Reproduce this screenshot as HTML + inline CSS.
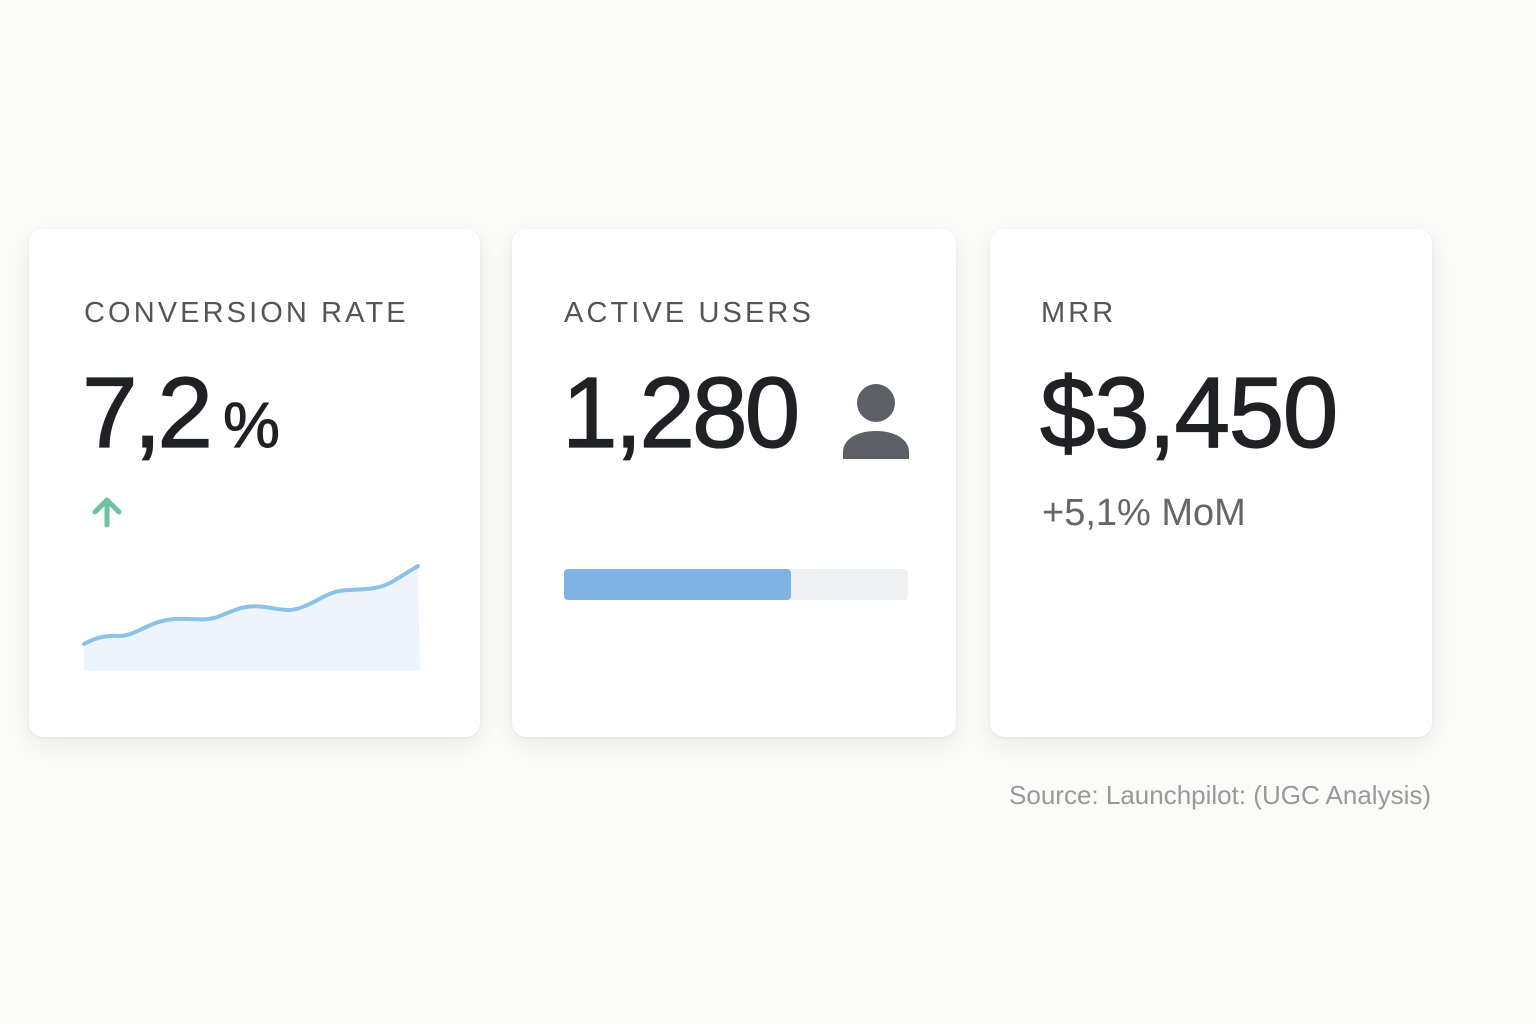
<!DOCTYPE html>
<html><head><meta charset="utf-8"><style>
body{margin:0;width:1536px;height:1024px;background:#fbfbf9;position:relative;overflow:hidden;font-family:"Liberation Sans",sans-serif}
.card{position:absolute;top:229px;height:508px;background:#fff;border-radius:14px;box-shadow:0 8px 24px rgba(0,0,0,0.07),0 1px 3px rgba(0,0,0,0.06)}
.lbl{position:absolute;top:297px;font-size:29px;letter-spacing:3.1px;color:#555;white-space:nowrap}
.big{position:absolute;top:356px;font-size:100px;color:#1f2124;letter-spacing:-1.5px;white-space:nowrap;line-height:1.15;-webkit-text-stroke:1.2px #1f2124}
</style></head><body>
<div class="card" style="left:29px;width:451px"></div>
<div class="card" style="left:512px;width:444px"></div>
<div class="card" style="left:990px;width:442px"></div>

<div class="lbl" style="left:84px">CONVERSION RATE</div>
<div class="lbl" style="left:564px">ACTIVE USERS</div>
<div class="lbl" style="left:1041px">MRR</div>

<div class="big" style="left:82px;letter-spacing:-4px">7,2<span style="font-size:64px;margin-left:14px;letter-spacing:0;-webkit-text-stroke:1px #1f2124">%</span></div>
<div class="big" style="left:562px;letter-spacing:-3px">1,280</div>
<div class="big" style="left:1040px">$3,450</div>

<div style="position:absolute;left:1042px;top:492px;font-size:38px;color:#666;white-space:nowrap">+5,1% MoM</div>

<svg style="position:absolute;left:0;top:0" width="1536" height="1024">
  <path d="M95 512 L107 500 L119 512 M107 500 L107 525" stroke="#6cc39e" stroke-width="5" fill="none" stroke-linecap="round" stroke-linejoin="round"/>
  <path d="M84 644 C95 638,105 635,118 636 C135 637,150 620,175 619 C195 618,205 622,220 616 C235 610,245 604,265 607 C280 609,290 613,305 606 C320 600,330 590,350 590 C365 589,380 590,395 580 L418 566 L420 671 L84 671 Z" fill="#eef4fb"/>
  <path d="M84 644 C95 638,105 635,118 636 C135 637,150 620,175 619 C195 618,205 622,220 616 C235 610,245 604,265 607 C280 609,290 613,305 606 C320 600,330 590,350 590 C365 589,380 590,395 580 L418 566" stroke="#8dc2e8" stroke-width="4" fill="none" stroke-linecap="round"/>
  <circle cx="876" cy="403" r="19" fill="#5c5f66"/>
  <path d="M843 459 L843 452 C843 440,856 431,876 431 C896 431,909 440,909 452 L909 459 Z" fill="#5c5f66"/>
  <rect x="564" y="569" width="344" height="31" rx="4" fill="#eef0f2"/>
  <rect x="564" y="569" width="227" height="31" rx="4" fill="#7fb3e3"/>
</svg>

<div style="position:absolute;right:105px;top:780px;font-size:26px;color:#999;white-space:nowrap">Source: Launchpilot: (UGC Analysis)</div>
</body></html>
